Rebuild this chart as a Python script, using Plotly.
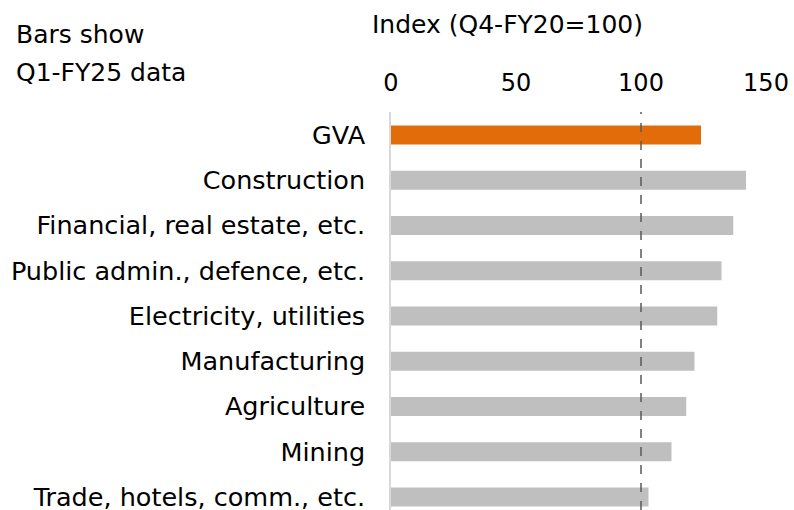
import plotly.graph_objects as go

categories = ["GVA", "Construction", "Financial, real estate, etc.", "Public admin., defence, etc.",
              "Electricity, utilities", "Manufacturing", "Agriculture", "Mining", "Trade, hotels, comm., etc."]
values = [124.0, 142.0, 136.9, 132.2, 130.5, 121.4, 118.1, 112.2, 103.0]
highlight = "GVA"
x_ticks = [0, 50, 100, 150]
reference_level = 100

colors = ["#E36C0A" if c == highlight else "#BFBFBF" for c in categories]
FONT = "DejaVu Sans"

W, H = 794, 510
ml, mt = 391, 112
pw = W - ml
ph = H - mt

fig = go.Figure(go.Bar(
    x=values, y=categories, orientation="h",
    marker=dict(color=colors, line=dict(width=0)),
    width=0.42,
))

fig.add_shape(type="line", x0=reference_level, x1=reference_level, xref="x",
              y0=0, y1=1, yref="paper",
              line=dict(color="#595959", width=1.5, dash="dash"))


def px2paper(x, y):
    return (x - ml) / pw, 1 - (y - mt) / ph


anns = [("Bars show", 14, 35, "left"), ("Q1-FY25 data", 14, 73, "left"),
        ("Index (Q4-FY20=100)", 507, 25, "center")]
for t, x, y, a in anns:
    px, py = px2paper(x, y)
    fig.add_annotation(text=t, x=px, y=py, xref="paper", yref="paper", showarrow=False,
                       xanchor=a, yanchor="middle", font=dict(size=25, color="#000000", family=FONT))

fig.update_layout(
    width=W, height=H,
    margin=dict(l=ml, r=0, t=mt, b=0, autoexpand=False),
    plot_bgcolor="white", paper_bgcolor="white",
    showlegend=False,
    font=dict(family=FONT, size=25, color="#000000"),
    xaxis=dict(side="top", range=[0, pw / 2.5], tickvals=x_ticks, showgrid=False,
               zeroline=False, showline=False, ticks="", ticklabelstandoff=15,
               automargin=False, tickfont=dict(size=24, family=FONT)),
    yaxis=dict(categoryorder="array", categoryarray=categories, type="category",
               range=[8.287, -0.508], showgrid=False, zeroline=False,
               showline=True, linecolor="#D9D9D9", linewidth=1.5, automargin=False,
               ticks="", ticklabelstandoff=19, tickfont=dict(size=25.5, family=FONT)),
)

fig.write_html("out.html", config={"displayModeBar": False},
               post_script="document.body.style.margin='0';document.body.style.overflow='hidden';")
